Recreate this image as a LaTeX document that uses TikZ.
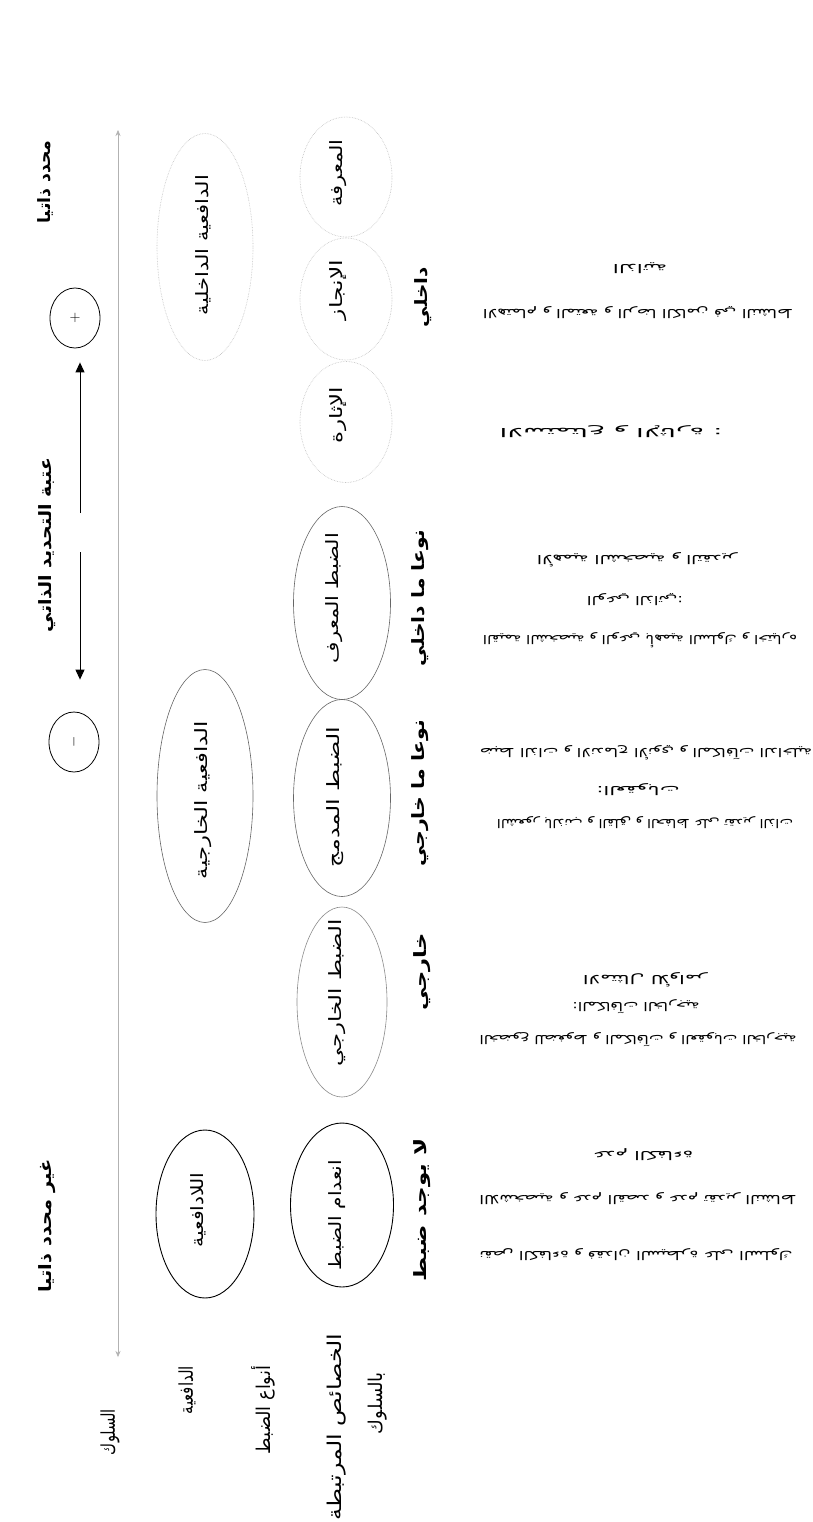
\documentclass[tikz,border=0pt]{standalone}
\usepackage{fontspec}
\usepackage{graphicx}
\usetikzlibrary{shapes.geometric,arrows.meta}
\TeXXeTstate=1
\newfontfamily\ar[Script=Arabic]{DejaVu Sans}
% #1 font size, #2 target length (pt), #3 text
\newcommand\lab[3][17]{\resizebox{#2pt}{\height}{\fontsize{#1}{#1}\ar #3}}
\newcommand\labb[3][17]{\resizebox{#2pt}{\height}{\fontsize{#1}{#1}\ar\bfseries #3}}
\tikzset{
  ellA/.style={ellipse, draw=black, line width=0.9pt, inner sep=0pt},
  ellB/.style={ellipse, draw=black!60, line width=0.6pt, inner sep=0pt},
  ellBl/.style={ellipse, draw=black!45, line width=0.6pt, inner sep=0pt},
  ellC/.style={ellipse, draw=black!25, line width=0.6pt, densely dotted, inner sep=0pt},
  circ/.style={ellipse, draw=black, line width=0.8pt, minimum width=50pt, minimum height=60pt, inner sep=0pt},
  arr/.style={line width=1pt, -{Triangle[length=10pt,width=9pt]}},
  beh/.style={draw=black!30, line width=0.6pt, {Stealth[length=6pt,width=5pt]}-{Stealth[length=6pt,width=5pt]}},
  vt/.style={rotate=90, inner sep=0pt},
  gt/.style={rotate=180, inner sep=0pt},
}
\begin{document}
\begin{tikzpicture}[x=1pt,y=-1pt]
\fill[white] (0,0) rectangle (813,1522);
\useasboundingbox (0,0) rectangle (813,1522);

% top row: self-determination axis
\node[vt] (sd) at (45,182) {\labb{83}{\beginR محدد ذاتيا\endR}};
\node[vt] (thr) at (47,545) {\labb{174}{\beginR عتبة التحديد الذاتي\endR}};
\node[vt] (nsd) at (47,1226) {\labb{133}{\beginR غير محدد ذاتيا\endR}};
\node[circ] (plus) at (75,318) {\fontsize{14}{14}\selectfont$+$};
\node[circ] (minus) at (74,742) {\rotatebox{90}{\fontsize{14}{14}\selectfont$-$}};
\coordinate (gA) at (80,513);
\coordinate (gB) at (80,552);
\draw[arr, shorten >=14pt] (gA) -- (gA |- plus.south);
\draw[arr, shorten >=32pt] (gB) -- (gB |- minus.north);

% behaviour line
\coordinate (bTop) at (118,130);
\coordinate (bBot) at (118,1357);
\draw[beh] (bTop) -- (bBot);

% motivation
\node[ellC, minimum width=96pt, minimum height=227pt] (mI) at (205,247) {};
\node[ellB, minimum width=96pt, minimum height=253pt] (mE) at (205,796) {};
\node[ellA, minimum width=98pt, minimum height=168pt] (mA) at (205,1214) {};
\node[vt] (tmI) at (203,245) {\lab{140}{\beginR الدافعية الداخلية\endR}};
\node[vt] (tmE) at (203,800) {\lab{158}{\beginR الدافعية الخارجية\endR}};
\node[vt] (tmA) at (198,1210) {\lab{75}{\beginR اللادافعية\endR}};

% regulation styles
\node[ellC, minimum width=92pt, minimum height=120pt] (rK) at (346,177) {};
\node[ellC, minimum width=92pt, minimum height=122pt] (rA) at (346,299) {};
\node[ellC, minimum width=92pt, minimum height=121pt] (rS) at (346,422) {};
\node[ellB, minimum width=97pt, minimum height=193pt] (rId) at (342,603) {};
\node[ellB, minimum width=97pt, minimum height=197pt] (rIn) at (342,798) {};
\node[ellBl, minimum width=90pt, minimum height=190pt] (rEx) at (342,1002) {};
\node[ellA, minimum width=103pt, minimum height=164pt] (rAm) at (342,1205) {};
\node[vt] (trK) at (338,173) {\lab{67}{\beginR المعرفة\endR}};
\node[vt] (trA) at (338,290) {\lab{60}{\beginR الإنجاز\endR}};
\node[vt] (trS) at (338,415) {\lab{56}{\beginR الإثارة\endR}};
\node[vt] (trId) at (334,598) {\lab{130}{\beginR الضبط المعرف\endR}};
\node[vt] (trIn) at (335,797) {\lab{140}{\beginR الضبط المدمج\endR}};
\node[vt] (trEx) at (337,993) {\lab{147}{\beginR الضبط الخارجي\endR}};
\node[vt] (trAm) at (337,1215) {\lab{110}{\beginR انعدام الضبط\endR}};

% locus
\node[vt] (lI) at (423,297) {\labb{60}{\beginR داخلي\endR}};
\node[vt] (lId) at (420,598) {\labb{137}{\beginR نوعا ما داخلي\endR}};
\node[vt] (lIn) at (420,793) {\labb{147}{\beginR نوعا ما خارجي\endR}};
\node[vt] (lEx) at (422,972) {\labb{77}{\beginR خارجي\endR}};
\node[vt] (lAm) at (422,1210) {\labb{143}{\beginR لا يوجد ضبط\endR}};

% row labels
\node[vt] (hB) at (110,1432) {\lab[19]{46}{\beginR السلوك\endR}};
\node[vt] (hM) at (187,1390) {\lab[19]{48}{\beginR الدافعية\endR}};
\node[vt] (hR) at (263,1410) {\lab[19]{88}{\beginR أنواع الضبط\endR}};
\node[vt] (hC1) at (337,1427) {\lab[19]{187}{\beginR الخصائص المرتبطة\endR}};
\node[vt] (hC2) at (378,1403) {\lab[19]{62}{\beginR بالسلوك\endR}};

% processes (printed upside down)
\node[gt] (pIa) at (640,268) {\lab[12]{54}{\beginR الذاتية\endR}};
\node[gt] (pIb) at (638,313) {\lab[12]{310}{\beginR الاهتمام و المتعة و الرضا الكامن في النشاط\endR}};
\node[gt] (pS) at (611,432) {\lab[12]{223}{\beginR الاستمتاع و الإثارة :\endR}};
\node[gt] (pId1) at (637,560) {\lab[12]{200}{\beginR الأهمية الشخصية و التقدير\endR}};
\node[gt] (pId2) at (635,600) {\lab[12]{96}{\beginR الوعي الذاتي:\endR}};
\node[gt] (pId3) at (640,640) {\lab[12]{314}{\beginR القيمة الشخصية و الوعي بأهمية السلوك و اختياره\endR}};
\node[gt] (pIn1) at (646,753) {\lab[12]{332}{\beginR ضبط الذات و الاندماج الأنوي و المكافآت الداخلية\endR}};
\node[gt] (pIn2) at (638,790) {\lab[12]{83}{\beginR :العقوبات\endR}};
\node[gt] (pIn3) at (645,823) {\lab[12]{296}{\beginR الشعور بالذنب و القلق و الحفاظ على تقدير الذات\endR}};
\node[gt] (pEx1) at (645,980) {\lab[12]{124}{\beginR الامتثال للأوامر\endR}};
\node[gt] (pEx2) at (636,1007) {\lab[12]{127}{\beginR :المكافآت الخارجية\endR}};
\node[gt] (pEx3) at (638,1040) {\lab[12]{317}{\beginR الخضوع للضغوط و المكافآت و العقوبات الخارجية\endR}};
\node[gt] (pAm1) at (643,1155) {\lab[12]{100}{\beginR عدم الكفاءة\endR}};
\node[gt] (pAm2) at (638,1199) {\lab[12]{317}{\beginR اللاشخصية و عدم القصد و عدم تقدير النشاط\endR}};
\node[gt] (pAm3) at (636,1255) {\lab[12]{313}{\beginR نقص الكفاءة و فقدان السيطرة على السلوك\endR}};
\end{tikzpicture}
\end{document}
